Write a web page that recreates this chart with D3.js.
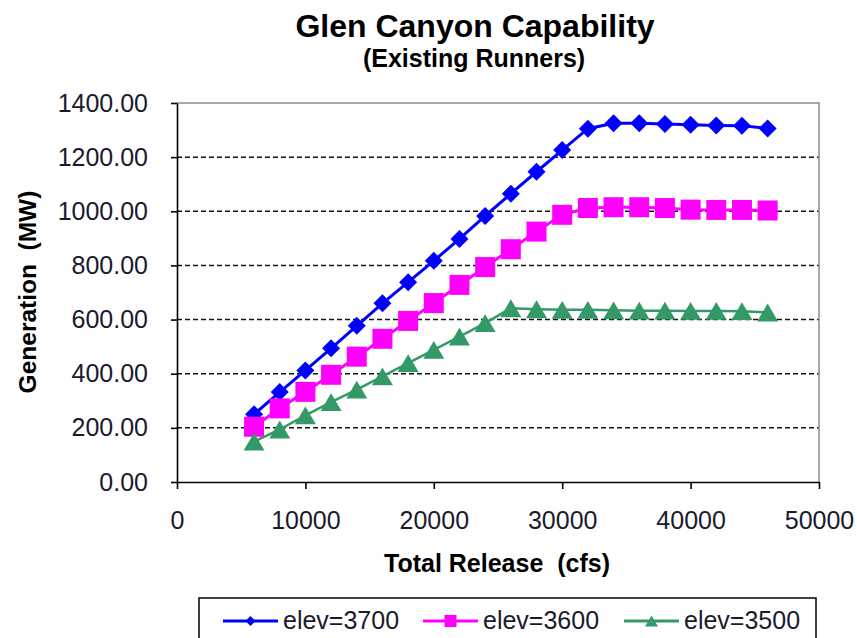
<!DOCTYPE html>
<html>
<head>
<meta charset="utf-8">
<script src="https://cdn.jsdelivr.net/npm/d3@7"></script>
<style>
  body { margin: 0; background: #fff; }
  svg { display: block; font-family: 'Liberation Sans', Arial, sans-serif; }
  text { white-space: pre; }
</style>
</head>
<body>
<div id="chart"></div>
<script>
// data
const release = [6000, 8000, 10000, 12000, 14000, 16000, 18000, 20000, 22000, 24000, 26000,
  28000, 30000, 32000, 34000, 36000, 38000, 40000, 42000, 44000, 46000]
const elev3700 = [250, 332, 412, 494, 577, 660, 738, 817, 898, 983, 1065,
  1146, 1226, 1305, 1325, 1325, 1322, 1320, 1317, 1316, 1306]
const elev3600 = [204, 272, 333, 396, 463, 529, 595, 661, 728, 794, 860,
  925, 987, 1012, 1015, 1015, 1012, 1006, 1005, 1005, 1003]
const elev3500 = [149, 194, 246, 295, 341, 390, 439, 488, 537, 587, 642,
  638, 636, 636, 634, 633, 633, 632, 632, 631, 626]
const seriesNames = ['elev=3700', 'elev=3600', 'elev=3500']
const yTicks = [0, 200, 400, 600, 800, 1000, 1200, 1400]
const xTicks = [0, 10000, 20000, 30000, 40000, 50000]

const series = [
  { name: seriesNames[0], values: elev3700, color: '#0000ff', marker: 'diamond', width: 3 },
  { name: seriesNames[1], values: elev3600, color: '#ff00ff', marker: 'square', width: 3 },
  { name: seriesNames[2], values: elev3500, color: '#339966', marker: 'triangle', width: 2.5 },
]

// size
const W = 857, H = 638
const plotLeft = 177, plotRight = 819, plotTop = 103, plotBottom = 482

// scale
const x = d3.scaleLinear().domain([0, 50000]).range([plotLeft, plotRight])
const y = d3.scaleLinear().domain([0, 1400]).range([plotBottom, plotTop])

// marker shapes, centred on their bounding box
function markerPath(type, s) {
  const h = s / 2
  if (type === 'diamond') return `M0,${-h}L${h},0L0,${h}L${-h},0Z`
  if (type === 'square') return `M${-h},${-h}H${h}V${h}H${-h}Z`
  const th = s * 0.85 / 2
  return `M0,${-th}L${h},${th}L${-h},${th}Z`
}
const markerSize = { diamond: 18, square: 20, triangle: 21 }
const legendMarkerSize = { diamond: 10, square: 12, triangle: 13 }

const svg = d3.select('#chart').append('svg').attr('width', W).attr('height', H)

// title
svg.append('text')
  .attr('x', 475).attr('y', 37)
  .attr('text-anchor', 'middle')
  .attr('font-size', '32px').attr('font-weight', 'bold')
  .text('Glen Canyon Capability')
svg.append('text')
  .attr('x', 474).attr('y', 67)
  .attr('text-anchor', 'middle')
  .attr('font-size', '25px').attr('font-weight', 'bold')
  .text('(Existing Runners)')

// gridlines
svg.append('g')
  .selectAll('line')
  .data(yTicks.filter(d => d > 0 && d < 1400))
  .join('line')
  .attr('x1', plotLeft).attr('x2', plotRight)
  .attr('y1', d => y(d)).attr('y2', d => y(d))
  .attr('stroke', '#111').attr('stroke-width', 1.5)
  .attr('stroke-dasharray', '5,3')

// plot border (top + right)
svg.append('path')
  .attr('d', `M${plotLeft},${y(1400)}H${plotRight}V${plotBottom}`)
  .attr('fill', 'none').attr('stroke', '#8c8c8c').attr('stroke-width', 1.5)

// y axis
const yAxis = svg.append('g')
  .attr('transform', `translate(${plotLeft},0)`)
  .call(d3.axisLeft(y).tickValues(yTicks).tickFormat(d3.format('.2f'))
    .tickSize(6).tickSizeOuter(0).tickPadding(23))
yAxis.selectAll('text').attr('font-size', '25px').attr('font-family', null).attr('fill', '#1a1a2e')

// x axis
const xAxis = svg.append('g')
  .attr('transform', `translate(0,${plotBottom})`)
  .call(d3.axisBottom(x).tickValues(xTicks).tickFormat(d3.format('d'))
    .tickSize(7).tickSizeOuter(0).tickPadding(22))
xAxis.selectAll('text').attr('font-size', '25px').attr('font-family', null).attr('fill', '#1a1a2e')
svg.selectAll('.domain, .tick line').attr('stroke', '#000').attr('stroke-width', 1.6)

// axis titles
svg.append('text')
  .attr('x', 497).attr('y', 572)
  .attr('text-anchor', 'middle')
  .attr('font-size', '25px').attr('font-weight', 'bold')
  .text('Total Release  (cfs)')
svg.append('text')
  .attr('transform', `translate(36, 292) rotate(-90)`)
  .attr('text-anchor', 'middle')
  .attr('font-size', '24.5px').attr('font-weight', 'bold')
  .text('Generation  (MW)')

// lines + markers
const line = d3.line().x((d, i) => x(release[i])).y(d => y(d))
series.forEach(s => {
  svg.append('path')
    .datum(s.values)
    .attr('d', line)
    .attr('fill', 'none')
    .attr('stroke', s.color)
    .attr('stroke-width', s.width)
  svg.append('g')
    .selectAll('path')
    .data(s.values)
    .join('path')
    .attr('transform', (d, i) => `translate(${x(release[i])},${y(d)})`)
    .attr('d', markerPath(s.marker, markerSize[s.marker]))
    .attr('fill', s.color)
})

// legend
svg.append('rect')
  .attr('x', 199).attr('y', 598)
  .attr('width', 617).attr('height', 60)
  .attr('fill', '#fff').attr('stroke', '#000').attr('stroke-width', 1.5)

const legendX = [223, 423, 624]
const legend = svg.append('g')
  .selectAll('g')
  .data(series)
  .join('g')
  .attr('transform', (d, i) => `translate(${legendX[i]},621)`)
legend.append('line')
  .attr('x1', 0).attr('x2', 55)
  .attr('stroke', d => d.color).attr('stroke-width', 3)
legend.append('path')
  .attr('transform', 'translate(27.5,0)')
  .attr('d', d => markerPath(d.marker, legendMarkerSize[d.marker]))
  .attr('fill', d => d.color)
legend.append('text')
  .attr('x', 60).attr('y', 8)
  .attr('font-size', '25px')
  .attr('fill', '#1a1a2e')
  .text(d => d.name)
</script>
</body>
</html>
